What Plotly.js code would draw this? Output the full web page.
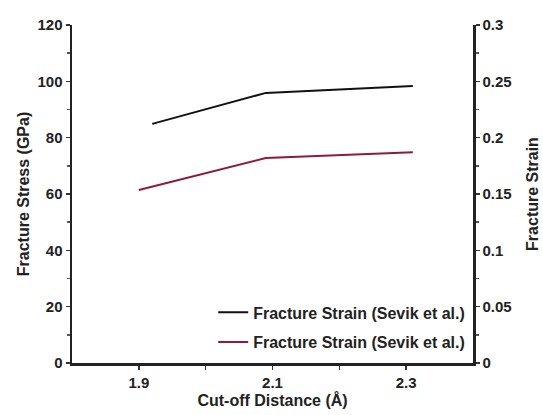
<!DOCTYPE html>
<html>
<head>
<meta charset="utf-8">
<script src="https://cdn.plot.ly/plotly-3.0.1.min.js"></script>
<style>html,body{margin:0;padding:0;background:#fff;}#chart{width:543px;height:415px;}</style>
</head>
<body>
<div id="chart"></div>
<script>
// Data
const stressX = [1.92, 2.09, 2.31];
const stressY = [84.9, 95.9, 98.3];          // GPa, left axis (black)
const strainX = [1.90, 2.09, 2.31];
const strainY = [0.1536, 0.182, 0.187];      // strain, right axis (red)
const seriesNames = ['Fracture Strain (Sevik et al.)', 'Fracture Strain (Sevik et al.)'];
const xTickVals = [1.9, 2.0, 2.1, 2.2, 2.3];
const xTickText = ['1.9', '', '2.1', '', '2.3'];

const fontFam = 'Liberation Sans, Arial, sans-serif';
const txtCol = '#222';
const tickFont = {size: 15, weight: 'bold', color: txtCol};
const titleFont = {size: 16, weight: 'bold', color: txtCol};

const traces = [
  {x: stressX, y: stressY, name: seriesNames[0], type: 'scatter', mode: 'lines',
   line: {color: '#111111', width: 2}, yaxis: 'y', legendgroup: 'a'},
  {x: strainX, y: strainY, name: seriesNames[1], type: 'scatter', mode: 'lines',
   line: {color: '#8e1b3c', width: 2}, yaxis: 'y2', legendgroup: 'b'}
];

const layout = {
  width: 543, height: 415,
  margin: {l: 72, r: 70, t: 25, b: 52},
  paper_bgcolor: '#fff', plot_bgcolor: '#fff',
  font: {family: fontFam, size: 15, color: txtCol, weight: 'bold'},
  showlegend: true,
  legend: {x: 0.993, xanchor: 'right', y: 0.2, yanchor: 'top',
           bgcolor: 'rgba(0,0,0,0)', font: {size: 16, color: txtCol, weight: 'bold'},
           tracegroupgap: 6, itemwidth: 30},
  xaxis: {
    range: [1.8, 2.4], tickmode: 'array', tickvals: xTickVals, ticktext: xTickText,
    showgrid: false, zeroline: false, showline: true, linecolor: '#222', linewidth: 2.5,
    ticks: 'outside', ticklen: 4, tickwidth: 1.5, tickcolor: '#333',
    title: {text: 'Cut-off Distance (Å)', font: titleFont, standoff: 6},
    tickfont: tickFont
  },
  yaxis: {
    range: [0, 120], dtick: 20, tick0: 0,
    showgrid: false, zeroline: false, showline: true, linecolor: '#222', linewidth: 2.5,
    ticks: 'outside', ticklen: 4, tickwidth: 1.5, tickcolor: '#333',
    minor: {dtick: 10, ticks: 'outside', ticklen: 3, tickcolor: '#555', showgrid: false},
    title: {text: 'Fracture Stress (GPa)', font: titleFont, standoff: 4},
    tickfont: tickFont
  },
  yaxis2: {
    range: [0, 0.3], dtick: 0.05, tick0: 0, overlaying: 'y', side: 'right',
    showgrid: false, zeroline: false, showline: true, linecolor: '#222', linewidth: 2.5,
    ticks: 'outside', ticklen: 4, tickwidth: 1.5, tickcolor: '#333',
    minor: {dtick: 0.025, ticks: 'outside', ticklen: 3, tickcolor: '#555', showgrid: false},
    title: {text: 'Fracture Strain', font: titleFont, standoff: 16},
    tickfont: tickFont
  }
};

Plotly.newPlot('chart', traces, layout, {displayModeBar: false, staticPlot: true});
</script>
</body>
</html>
